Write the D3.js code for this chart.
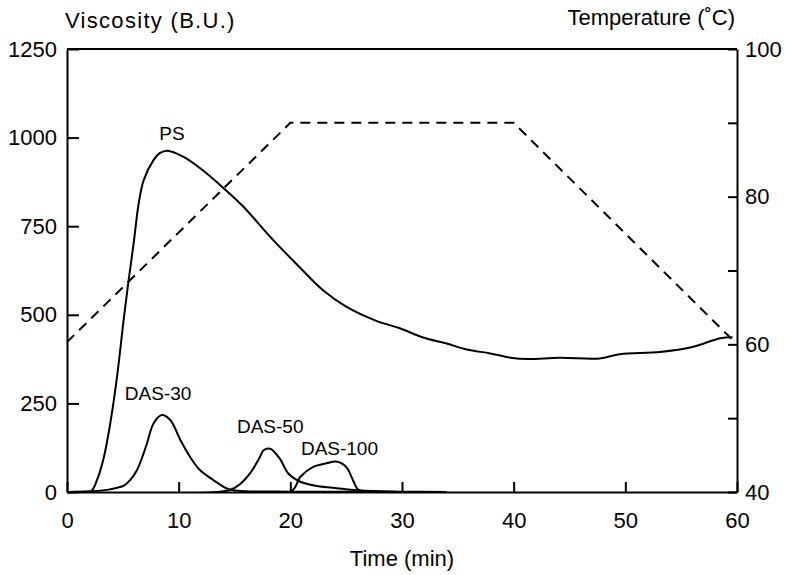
<!DOCTYPE html>
<html>
<head>
<meta charset="utf-8">
<script src="https://cdn.jsdelivr.net/npm/d3@7"></script>
<style>
    body { margin: 0; background: #fff; }
    text { font-family: "Liberation Sans", Arial, sans-serif; fill: #000; }
</style>
</head>
<body>
<script>
// values (time in min, viscosity in B.U., temperature in C)
var psTime   = [0, 2.09, 2.69, 3.28, 3.88, 4.48, 5.07, 5.52, 5.97, 6.42, 6.87, 7.76, 8.3, 9.0, 10.4, 11.9, 14.0, 15.8, 18.2, 20.9, 22.9, 25.0, 27.7, 29.8, 31.9, 34.0, 35.8, 37.9, 39.7, 41.3, 44.1, 47.7, 49.5, 53.1, 56.0, 58.5, 59.6];
var psVisc   = [0, 0, 34, 95, 195, 325, 485, 598, 702, 814, 880, 937, 956, 963, 946, 914, 858, 805, 720, 632, 570, 523, 483, 462, 436, 419, 402, 391, 379, 375, 379, 377, 389, 395, 409, 434, 437];

var das30Time = [0, 2.0, 3.6, 4.5, 5.1, 5.67, 6.27, 6.86, 7.16, 7.76, 8.5, 9.25, 10.15, 11.0, 11.9, 13.1, 14.3, 14.9, 16.0, 20.0, 30.0];
var das30Visc = [0, 2, 6, 12, 18, 34, 62, 109, 137, 194, 217, 203, 147, 100, 62, 34, 10, 5, 2, 1, 0];

var das50Time = [0, 14.5, 15.6, 16.4, 17.3, 17.6, 18.2, 19.1, 19.8, 20.9, 22.4, 24.4, 26.2, 30.0, 34.0];
var das50Visc = [0, 5, 25, 53, 100, 118, 122, 92, 53, 29, 17, 10, 4, 1, 0];

var das100Time = [0, 20.0, 20.9, 22.05, 23.25, 24.1, 25.0, 25.6, 26.1, 27.0, 30.0];
var das100Visc = [0, 0, 43, 71, 81, 86, 71, 34, 6, 2, 0];

var tempTime = [0, 20, 40, 59.6];
var tempVals = [60.3, 90, 90, 60.6];

var timeTicks = [0, 10, 20, 30, 40, 50, 60];
var viscTicks = [0, 250, 500, 750, 1000, 1250];
var tempTicks = [40, 50, 60, 70, 80, 90, 100];
var tempLabels = [40, 60, 80, 100];

// curve names with an anchor point [time, viscosity]
var curveLabels = [
    ["PS", 9.4, 993],
    ["DAS-30", 8.15, 260],
    ["DAS-50", 18.2, 166],
    ["DAS-100", 24.4, 104]
];

var width = 786, height = 575;
var margin = {left: 67, right: 49, top: 49, bottom: 83};

var svg = d3.select("body").append("svg")
            .attr("width", width)
            .attr("height", height);

var x = d3.scaleLinear().domain([0, 60]).range([margin.left, width - margin.right]);
var y = d3.scaleLinear().domain([0, 1250]).range([height - margin.bottom, margin.top]);
var yT = d3.scaleLinear().domain([40, 100]).range([height - margin.bottom, margin.top]);

function pairs(ts, vs) {
    return ts.map(function(t, i) { return [t, vs[i]]; });
}

function styleAxis(g) {
    g.select(".domain").attr("stroke", "#000").attr("stroke-width", 2);
    g.selectAll(".tick line").attr("stroke", "#000").attr("stroke-width", 2);
    g.selectAll(".tick text")
     .attr("font-family", "Liberation Sans, Arial, sans-serif")
     .attr("font-size", 22)
     .attr("fill", "#000");
}

// keep the smoothed curves from dipping under the time axis
svg.append("clipPath")
   .attr("id", "plotClip")
   .append("rect")
   .attr("x", margin.left)
   .attr("y", margin.top)
   .attr("width", width - margin.left - margin.right)
   .attr("height", y(0) - margin.top + 1);

// axes, ticks point inwards
svg.append("g")
   .attr("transform", "translate(" + margin.left + ",0)")
   .call(d3.axisLeft(y).tickValues(viscTicks).tickFormat(d3.format("d"))
           .tickSize(-12).tickSizeOuter(0).tickPadding(10))
   .call(styleAxis);

svg.append("g")
   .attr("transform", "translate(0," + (height - margin.bottom) + ")")
   .call(d3.axisBottom(x).tickValues(timeTicks).tickSize(-10).tickSizeOuter(0).tickPadding(20))
   .call(styleAxis);

svg.append("g")
   .attr("transform", "translate(" + (width - margin.right) + ",0)")
   .call(d3.axisRight(yT).tickValues(tempTicks).tickSize(-9).tickSizeOuter(0).tickPadding(8)
           .tickFormat(function(d) { return tempLabels.indexOf(d) >= 0 ? d : ""; }))
   .call(styleAxis);

svg.append("line")
   .attr("x1", margin.left).attr("x2", width - margin.right)
   .attr("y1", margin.top).attr("y2", margin.top)
   .attr("stroke", "#000").attr("stroke-width", 2);

var viscLine = d3.line()
                 .x(function(d) { return x(d[0]); })
                 .y(function(d) { return y(d[1]); })
                 .curve(d3.curveCatmullRom.alpha(0.5));

var tempLine = d3.line()
                 .x(function(d) { return x(d[0]); })
                 .y(function(d) { return yT(d[1]); });

var series = [
    pairs(das100Time, das100Visc),
    pairs(das50Time, das50Visc),
    pairs(das30Time, das30Visc),
    pairs(psTime, psVisc)
];

svg.selectAll("path.visc")
   .data(series)
   .enter()
   .append("path")
   .attr("class", "visc")
   .attr("d", viscLine)
   .attr("clip-path", "url(#plotClip)")
   .attr("fill", "none")
   .attr("stroke", "#000")
   .attr("stroke-width", 2);

svg.append("path")
   .attr("d", tempLine(pairs(tempTime, tempVals)))
   .attr("fill", "none")
   .attr("stroke", "#000")
   .attr("stroke-width", 2)
   .attr("stroke-dasharray", "10,7");

svg.selectAll("text.curve")
   .data(curveLabels)
   .enter()
   .append("text")
   .attr("class", "curve")
   .attr("x", function(d) { return x(d[1]); })
   .attr("y", function(d) { return y(d[2]); })
   .attr("text-anchor", "middle")
   .attr("font-size", 19)
   .text(function(d) { return d[0]; });

// axis titles
svg.append("text")
   .attr("x", 65).attr("y", 28)
   .attr("font-size", 22)
   .attr("letter-spacing", 1.3)
   .text("Viscosity (B.U.)");

svg.append("text")
   .attr("x", 735).attr("y", 25)
   .attr("text-anchor", "end")
   .attr("font-size", 22)
   .text("Temperature (˚C)");

svg.append("text")
   .attr("x", (margin.left + width - margin.right) / 2).attr("y", 566)
   .attr("text-anchor", "middle")
   .attr("font-size", 22)
   .text("Time (min)");
</script>
</body>
</html>
